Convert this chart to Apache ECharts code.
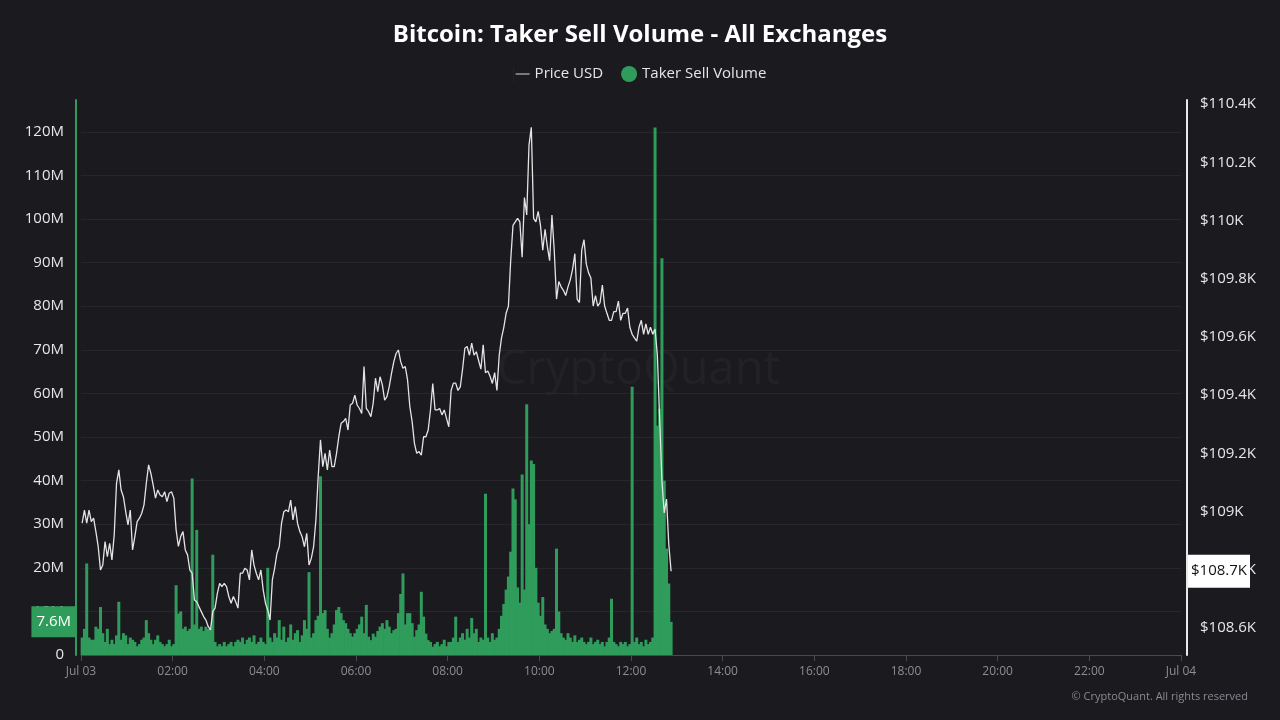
<!DOCTYPE html>
<html>
<head>
<meta charset="utf-8">
<script src="https://cdn.jsdelivr.net/npm/echarts@6/dist/echarts.min.js"></script>
<style>
html,body{margin:0;padding:0;background:#1b1a1f;}
#chart{width:1280px;height:720px;}
</style>
</head>
<body>
<div id="chart"></div>
<script>
// ---- data (3-minute samples starting Jul 03 00:00) ----
const STEP_MIN = 3;
const X_TICK_LABELS = ['Jul 03','02:00','04:00','06:00','08:00','10:00','12:00','14:00','16:00','18:00','20:00','22:00','Jul 04'];
const PRICE_USD = [
108960,109005,108960,109005,108965,108977,108931,108880,108799,108816,
108897,108845,108891,108834,108920,109097,109143,109074,109051,109000,
108954,109005,108868,108914,108965,108977,108994,109023,109097,109160,
109131,109091,109046,109074,109057,109051,109068,109034,109063,109068,
109046,108937,108880,108914,108931,108868,108851,108799,108788,108696,
108690,108673,108656,108639,108627,108605,108593,108656,108668,108719,
108753,108742,108753,108742,108708,108685,108708,108690,108668,108788,
108788,108805,108799,108765,108868,108816,108788,108765,108799,108731,
108685,108661,108627,108765,108805,108856,108879,108959,108999,109005,
108999,109039,108971,109017,108959,108931,108913,108879,108925,108816,
108839,108879,108971,109120,109246,109154,109200,109143,109211,109154,
109154,109200,109257,109303,109309,109320,109280,109366,109372,109400,
109366,109354,109337,109498,109354,109343,109326,109372,109458,109412,
109463,109435,109383,109395,109429,109475,109515,109543,109555,109515,
109492,109498,109452,109360,109309,109234,109200,109206,109194,109257,
109257,109280,109349,109440,109349,109349,109354,109332,109349,109320,
109291,109416,109441,109441,109416,109428,109489,109561,109567,109537,
109579,109537,109549,109519,109489,109573,109477,109483,109465,109440,
109477,109416,109537,109597,109633,109681,109705,109862,109983,109995,
110007,109995,109874,110079,110019,110260,110320,110007,109995,110031,
109983,109898,109970,109910,109862,110019,109898,109730,109790,109772,
109760,109742,109772,109796,109832,109886,109730,109718,109898,109934,
109850,109820,109802,109706,109742,109706,109718,109778,109706,109681,
109657,109657,109687,109687,109723,109657,109681,109681,109699,109633,
109609,109597,109585,109633,109657,109609,109645,109609,109633,109609,
109627,109537,109320,109103,108995,109043,108886,108795
];
const TAKER_SELL_M = [
4,6,21,4,3.5,3.5,6.5,6,11,5,
3,6,2.5,3.5,2.5,4.5,12.2,3.5,5,4.5,
2.5,4,3.5,3,2,2.5,3.5,4,8,5,
3.5,2.5,3.5,4.5,3,2.5,2,2.5,3.5,2,
2.5,16,9.5,10,6,6.5,5.5,6,40.5,7,
28.7,6,6.5,5.5,6.5,6,6,23,3,2,
2.5,2,3,2,2.5,3,2,3,3.5,3,
4,2.5,3.5,4,3,4.5,2.5,3,4,3,
2.5,20,4,3,5,4,8,3.5,6.5,3,
4,7,3.5,5,5.7,3,4.5,8,6,19,
4,5,8,9,41,9.6,10.3,6,4,5,
7,10.3,11,9.6,8,7.3,6,5,4.2,5,
6,7,8.8,5,11.5,4.2,3.4,4.9,4.2,5.5,
6.5,7.3,6,8,6.5,5,5.7,6,9.6,14,
18.7,7,9.6,9.6,7.3,4.2,5.7,7,14.5,8.8,
4.9,3.4,3,1.9,2.5,3,2,2.5,3.5,2,
3,3,4,8.8,3,4,5,3.5,6,4,
8.5,5,6,3,4,3.5,37,4,3,5,
3.5,4,6,9,11.7,15,18,23.7,38.2,35.7,
15.5,12,41.4,15,57.5,30,44.6,43.8,20,12,
9,13.3,7,6,5,5.5,6,24.4,10,5,
4,3.5,5,4,3,4.5,3,3.5,4,3,
2.5,3,4,2.5,3,3.5,2.5,3,2,3,
4,12.9,3,2.5,2,3,2.5,3,2,2.5,
61.5,3,4,2.5,3,2,3.5,2.5,3,4,
121,52.6,56.5,91,40,24.4,16.4,7.6
];

// ---- build series ----
const priceData = PRICE_USD.map((p, i) => [i * STEP_MIN + STEP_MIN / 2, p]);
const volData = TAKER_SELL_M.map((v, i) => [i * STEP_MIN + STEP_MIN / 2, v * 1e6]);
const lastPrice = PRICE_USD[PRICE_USD.length - 1];
const lastVol = TAKER_SELL_M[TAKER_SELL_M.length - 1] * 1e6;

const GREEN = '#2f9c5b';
const FONT = "'Open Sans', 'Noto Sans', sans-serif";

const chart = echarts.init(document.getElementById('chart'), null, {renderer: 'canvas'});
chart.setOption({
  backgroundColor: '#1b1a1f',
  animation: false,
  textStyle: {fontFamily: FONT},
  title: {
    text: 'Bitcoin: Taker Sell Volume - All Exchanges',
    left: 'center', top: 18,
    textStyle: {color: '#ffffff', fontSize: 24, fontWeight: 'bold', fontFamily: FONT}
  },
  legend: {
    top: 61, left: 'center', itemGap: 18, itemWidth: 16, itemHeight: 16,
    textStyle: {color: '#e6e6e6', fontSize: 15, fontFamily: FONT},
    data: [
      {name: 'Price USD', icon: 'path://M0,0h0.05v16h-0.05z M2,7.4h14v1.2h-14z', itemStyle: {color: '#d8d8d8'}},
      {name: 'Taker Sell Volume', icon: 'circle', itemStyle: {color: GREEN}}
    ]
  },
  graphic: [
    {type: 'text', left: 497, top: 347, silent: true,
     style: {text: 'CryptoQuant', fill: 'rgba(255,255,255,0.03)', fontSize: 47, fontFamily: FONT}},
    {type: 'text', right: 32, top: 691, silent: true,
     style: {text: '© CryptoQuant. All rights reserved', fill: '#8a8a90', fontSize: 11, fontFamily: FONT}}
  ],
  grid: {left: 81, right: 99, top: 100, bottom: 65},
  xAxis: {
    type: 'value', min: 0, max: 1440, interval: 120,
    axisLine: {show: true, onZero: false, lineStyle: {color: '#4a4a50', width: 1}},
    axisTick: {show: true, length: 6, lineStyle: {color: '#4a4a50'}},
    axisLabel: {color: '#8d8d93', fontSize: 12, margin: 11,
      formatter: v => X_TICK_LABELS[Math.round(v / 120)]},
    splitLine: {show: false}
  },
  yAxis: [
    {
      type: 'value', position: 'left', offset: 5, min: 0, max: 127.3e6, interval: 10e6,
      axisLine: {show: true, onZero: false, lineStyle: {color: GREEN, width: 2}},
      axisTick: {show: false},
      axisLabel: {color: '#e6e6e6', fontSize: 15, margin: 12, showMaxLabel: false,
        formatter: v => v === 0 ? '0' : (v / 1e6) + 'M'},
      splitLine: {show: true, showMaxLine: false, lineStyle: {color: '#27262c', width: 1}},
      axisPointer: {
        show: true, status: 'show', value: lastVol, triggerTooltip: false,
        lineStyle: {opacity: 0, width: 0},
        label: {show: true, backgroundColor: GREEN, color: '#ffffff', fontSize: 15,
          padding: [8, 5, 8, 5], margin: 0, borderRadius: 0,
          formatter: p => (p.value / 1e6).toFixed(1) + 'M'}
      }
    },
    {
      type: 'value', position: 'right', offset: 6, min: 108507, max: 110414, splitNumber: 9,
      axisLine: {show: true, onZero: false, lineStyle: {color: '#e8e8e8', width: 2}},
      axisTick: {show: false},
      axisLabel: {color: '#e6e6e6', fontSize: 15, margin: 13, showMinLabel: false, showMaxLabel: false,
        formatter: v => '$' + parseFloat((v / 1000).toFixed(1)) + 'K'},
      splitLine: {show: false},
      axisPointer: {
        show: true, status: 'show', value: lastPrice, triggerTooltip: false,
        lineStyle: {opacity: 0, width: 0},
        label: {show: true, backgroundColor: '#ffffff', color: '#111111', fontSize: 15,
          padding: [9, 3, 9, 3], margin: 1, borderRadius: 0,
          formatter: p => '$' + (Math.floor(p.value / 100) / 10).toFixed(1) + 'K'}
      }
    }
  ],
  series: [
    {
      name: 'Taker Sell Volume', type: 'bar', yAxisIndex: 0, data: volData,
      barWidth: 3, itemStyle: {color: GREEN}, silent: true
    },
    {
      name: 'Price USD', type: 'line', yAxisIndex: 1, data: priceData,
      showSymbol: false, symbol: 'none',
      lineStyle: {color: '#e4e4e4', width: 1.3}, itemStyle: {color: '#e4e4e4'}, silent: true
    }
  ]
});
</script>
</body>
</html>
